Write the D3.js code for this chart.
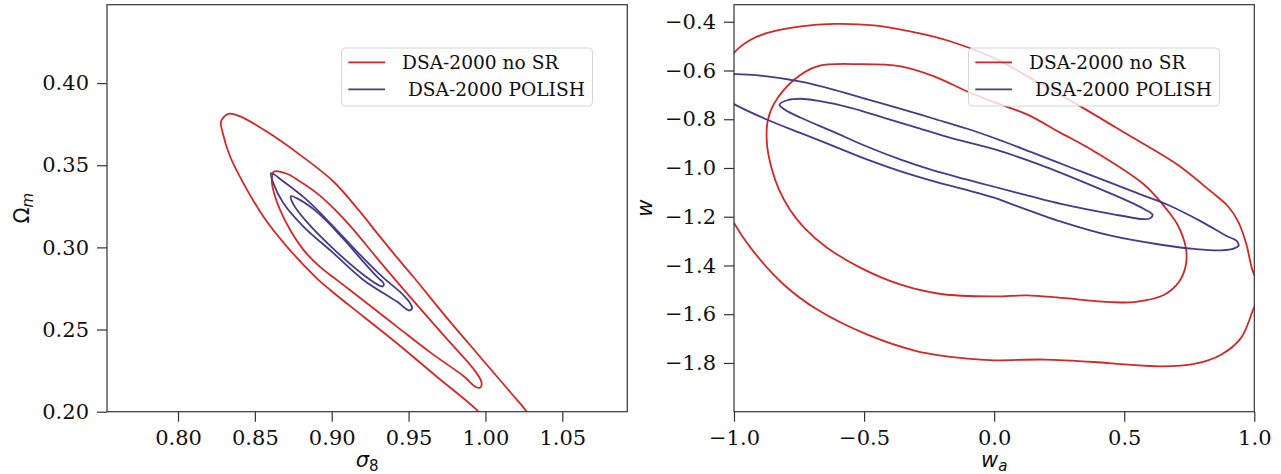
<!DOCTYPE html>
<html>
<head>
<meta charset="utf-8">
<script src="https://cdn.jsdelivr.net/npm/d3@7"></script>
<style>
  body { margin: 0; background: #fff; }
</style>
</head>
<body>
<div id="chart"></div>
<script>
// ---- data ----
const sigma8Ticks = [0.80, 0.85, 0.90, 0.95, 1.00, 1.05];
const omegaTicks = [0.20, 0.25, 0.30, 0.35, 0.40];
const waTicks = [-1.0, -0.5, 0.0, 0.5, 1.0];
const wTicks = [-1.8, -1.6, -1.4, -1.2, -1.0, -0.8, -0.6, -0.4];

const legendLabels = ["DSA-2000 no SR", " DSA-2000 POLISH"];
const seriesColors = ["#d62728", "#483a8a"];

// contour levels, [sigma8, Omega_m]
const noSR_s8om_outer = [
  [0.8280, 0.3766], [0.8327, 0.3813], [0.8404, 0.3797], [0.8577, 0.3705], [0.8794, 0.3563],
  [0.9011, 0.3401], [0.9185, 0.3216], [0.9302, 0.3079], [0.9424, 0.2939], [0.9532, 0.2820],
  [0.9749, 0.2571], [0.9966, 0.2333], [1.0161, 0.2120], [1.0270, 0.1998], [1.0344, 0.1876],
  [1.0292, 0.1755], [1.0129, 0.1828], [0.9945, 0.2010], [0.9684, 0.2213], [0.9424, 0.2417],
  [0.9206, 0.2579], [0.8990, 0.2741], [0.8903, 0.2812], [0.8708, 0.3005], [0.8555, 0.3188],
  [0.8425, 0.3391], [0.8339, 0.3553], [0.8291, 0.3696]
];
const noSR_s8om_inner = [
  [0.8625, 0.3462], [0.8708, 0.3448], [0.8794, 0.3401], [0.8903, 0.3330], [0.9011, 0.3239],
  [0.9120, 0.3131], [0.9315, 0.2912], [0.9532, 0.2674], [0.9749, 0.2443], [0.9923, 0.2260],
  [0.9974, 0.2181], [0.9969, 0.2149], [0.9940, 0.2149], [0.9857, 0.2217], [0.9641, 0.2361],
  [0.9424, 0.2518], [0.9206, 0.2677], [0.9042, 0.2796], [0.8924, 0.2881], [0.8816, 0.2985],
  [0.8729, 0.3107], [0.8664, 0.3228], [0.8625, 0.3330], [0.8610, 0.3411]
];
const polish_s8om_outer = [
  [0.8605, 0.3452], [0.8686, 0.3401], [0.8838, 0.3289], [0.9011, 0.3127], [0.9185, 0.2954],
  [0.9337, 0.2814], [0.9445, 0.2729], [0.9510, 0.2660], [0.9523, 0.2629], [0.9504, 0.2616],
  [0.9424, 0.2670], [0.9206, 0.2802], [0.9011, 0.2965], [0.8816, 0.3127], [0.8686, 0.3269],
  [0.8620, 0.3391]
];
const polish_s8om_inner = [
  [0.8734, 0.3312], [0.8775, 0.3298], [0.8903, 0.3216], [0.9076, 0.3052], [0.9206, 0.2912],
  [0.9296, 0.2820], [0.9338, 0.2781], [0.9331, 0.2762], [0.9296, 0.2775], [0.9206, 0.2833],
  [0.9011, 0.2991], [0.8838, 0.3155], [0.8749, 0.3265]
];

// contour levels, [w_a, w]
const noSR_waw_outer = [
  [-1.000, -0.528], [-0.936, -0.474], [-0.872, -0.446], [-0.743, -0.419], [-0.615, -0.409],
  [-0.462, -0.415], [-0.295, -0.446], [-0.167, -0.481], [0.000, -0.549], [0.158, -0.642],
  [0.320, -0.740], [0.513, -0.863], [0.705, -0.987], [0.833, -1.096], [0.897, -1.155],
  [0.938, -1.220], [0.969, -1.311], [0.990, -1.409], [1.019, -1.507], [0.993, -1.588],
  [0.949, -1.697], [0.872, -1.766], [0.769, -1.804], [0.641, -1.814], [0.513, -1.807],
  [0.385, -1.796], [0.192, -1.786], [0.000, -1.789], [-0.103, -1.782], [-0.295, -1.752],
  [-0.487, -1.684], [-0.680, -1.581], [-0.808, -1.479], [-0.936, -1.328], [-1.000, -1.226],
  [-1.046, -1.130], [-1.085, -0.884], [-1.046, -0.638]
];
const noSR_waw_inner = [
  [-0.513, -0.574], [-0.359, -0.583], [-0.231, -0.624], [-0.103, -0.686], [0.000, -0.730],
  [0.128, -0.781], [0.254, -0.855], [0.385, -0.932], [0.577, -1.069], [0.667, -1.175],
  [0.705, -1.233], [0.737, -1.328], [0.737, -1.397], [0.712, -1.465], [0.654, -1.520],
  [0.538, -1.550], [0.449, -1.550], [0.257, -1.533], [0.128, -1.523], [0.000, -1.527],
  [-0.205, -1.517], [-0.359, -1.479], [-0.513, -1.410], [-0.641, -1.328], [-0.727, -1.249],
  [-0.785, -1.171], [-0.827, -1.089], [-0.856, -0.999], [-0.873, -0.905], [-0.871, -0.810],
  [-0.846, -0.736], [-0.769, -0.638], [-0.680, -0.583]
];
const polish_waw_outer = [
  [-1.000, -0.615], [-0.872, -0.624], [-0.743, -0.646], [-0.615, -0.679], [-0.487, -0.718],
  [-0.359, -0.757], [-0.231, -0.798], [-0.103, -0.839], [0.000, -0.877], [0.138, -0.933],
  [0.292, -0.997], [0.446, -1.060], [0.562, -1.108], [0.667, -1.151], [0.795, -1.219],
  [0.897, -1.281], [0.931, -1.298], [0.940, -1.317], [0.923, -1.330], [0.872, -1.338],
  [0.769, -1.332], [0.641, -1.315], [0.449, -1.278], [0.257, -1.220], [0.064, -1.147],
  [0.000, -1.122], [-0.103, -1.091], [-0.231, -1.055], [-0.359, -1.014], [-0.487, -0.966],
  [-0.615, -0.911], [-0.743, -0.857], [-0.872, -0.802], [-1.000, -0.738], [-1.062, -0.699],
  [-1.085, -0.658], [-1.062, -0.621]
];
const polish_waw_inner = [
  [-0.825, -0.740], [-0.795, -0.722], [-0.746, -0.716], [-0.680, -0.724], [-0.551, -0.753],
  [-0.423, -0.794], [-0.295, -0.835], [-0.167, -0.876], [0.000, -0.923], [0.177, -0.987],
  [0.369, -1.069], [0.538, -1.147], [0.581, -1.171], [0.609, -1.192], [0.600, -1.206],
  [0.577, -1.210], [0.449, -1.188], [0.257, -1.147], [0.127, -1.112], [0.000, -1.077],
  [-0.103, -1.048], [-0.231, -1.011], [-0.359, -0.966], [-0.487, -0.913], [-0.615, -0.853],
  [-0.743, -0.794], [-0.804, -0.761]
];

// ---- layout ----
const width = 1281, height = 474;
const spineColor = "#333";
const tickFont = "'DejaVu Serif', serif";
const mathFont = "'DejaVu Sans', sans-serif";

const svg = d3.select("#chart").append("svg")
  .attr("width", width)
  .attr("height", height);

const panels = [
  {
    id: "s8om",
    box: { left: 107, right: 627.3, top: 4.7, bottom: 411.7 },
    xDomain: [0.7538, 1.0923], yDomain: [0.20, 0.4477],
    xTicks: sigma8Ticks, yTicks: omegaTicks,
    xFmt: d3.format(".2f"), yFmt: d3.format(".2f"),
    contours: [
      [noSR_s8om_outer, 0], [noSR_s8om_inner, 0],
      [polish_s8om_outer, 1], [polish_s8om_inner, 1]
    ],
    xLabel: [["σ", "italic", 0], ["8", "normal", 1]],
    yLabel: [["Ω", "normal", 0], ["m", "italic", 1]],
    yLabelX: 29
  },
  {
    id: "waw",
    box: { left: 734, right: 1254.3, top: 4.7, bottom: 411.7 },
    xDomain: [-1, 1], yDomain: [-2.0, -0.33],
    xTicks: waTicks, yTicks: wTicks,
    xFmt: d3.format(".1f"), yFmt: d3.format(".1f"),
    contours: [
      [noSR_waw_outer, 0], [noSR_waw_inner, 0],
      [polish_waw_outer, 1], [polish_waw_inner, 1]
    ],
    xLabel: [["w", "italic", 0], ["a", "italic", 1]],
    yLabel: [["w", "italic", 0]],
    yLabelX: 652
  }
];

// math-like label with optional subscript
function mathLabel(sel, parts) {
  parts.forEach(function (p) {
    const t = sel.append("tspan")
      .attr("font-style", p[1])
      .text(p[0]);
    if (p[2] === 1) t.attr("font-size", "15px").attr("dy", 4);
  });
}

panels.forEach(function (p) {
  const b = p.box;
  const x = d3.scaleLinear().domain(p.xDomain).range([b.left, b.right]);
  const y = d3.scaleLinear().domain(p.yDomain).range([b.bottom, b.top]);

  const g = svg.append("g");

  g.append("clipPath").attr("id", "clip-" + p.id)
    .append("rect")
    .attr("x", b.left).attr("y", b.top)
    .attr("width", b.right - b.left).attr("height", b.bottom - b.top);

  // contours
  const line = d3.line()
    .x(d => x(d[0]))
    .y(d => y(d[1]))
    .curve(d3.curveCatmullRomClosed.alpha(0.5));

  g.append("g")
    .attr("clip-path", "url(#clip-" + p.id + ")")
    .selectAll("path")
    .data(p.contours)
    .join("path")
    .attr("d", d => line(d[0]))
    .attr("fill", "none")
    .attr("stroke", d => seriesColors[d[1]])
    .attr("stroke-width", 1.8);

  // axes
  const xAxis = g.append("g")
    .attr("transform", `translate(0,${b.bottom})`)
    .call(d3.axisBottom(x).tickValues(p.xTicks).tickFormat(p.xFmt).tickSize(10).tickPadding(8));
  const yAxis = g.append("g")
    .attr("transform", `translate(${b.left},0)`)
    .call(d3.axisLeft(y).tickValues(p.yTicks).tickFormat(p.yFmt).tickSize(10).tickPadding(8));

  [xAxis, yAxis].forEach(function (a) {
    a.select(".domain").remove();
    a.selectAll(".tick line").attr("stroke", spineColor).attr("stroke-width", 1.2);
    a.selectAll(".tick text")
      .attr("fill", "#111")
      .style("font-family", tickFont)
      .style("font-size", "21px");
  });

  // spines
  g.append("rect")
    .attr("x", b.left).attr("y", b.top)
    .attr("width", b.right - b.left).attr("height", b.bottom - b.top)
    .attr("fill", "none")
    .attr("stroke", spineColor)
    .attr("stroke-width", 1.2);

  // axis labels
  const xl = g.append("text")
    .attr("x", (b.left + b.right) / 2)
    .attr("y", 467)
    .attr("text-anchor", "middle")
    .style("font-family", mathFont)
    .style("font-size", "21px")
    .attr("fill", "#111");
  mathLabel(xl, p.xLabel);

  const yl = g.append("text")
    .attr("transform", `translate(${p.yLabelX},${(b.top + b.bottom) / 2}) rotate(-90)`)
    .attr("text-anchor", "middle")
    .style("font-family", mathFont)
    .style("font-size", "21px")
    .attr("fill", "#111");
  mathLabel(yl, p.yLabel);

  // legend
  const lg = g.append("g").attr("transform", `translate(${b.left + 234.5},48)`);
  lg.append("rect")
    .attr("width", 251).attr("height", 58)
    .attr("rx", 4)
    .attr("fill", "#fff").attr("fill-opacity", 0.8)
    .attr("stroke", "#d6d6d6").attr("stroke-width", 1);
  legendLabels.forEach(function (lab, i) {
    const cy = 14.3 + i * 27;
    lg.append("line")
      .attr("x1", 6.8).attr("x2", 43.5)
      .attr("y1", cy).attr("y2", cy)
      .attr("stroke", seriesColors[i])
      .attr("stroke-width", 1.8);
    lg.append("text")
      .attr("x", 60.5)
      .attr("y", cy + 6.7)
      .attr("xml:space", "preserve")
      .style("white-space", "pre")
      .style("font-family", tickFont)
      .style("font-size", "18.6px")
      .attr("fill", "#111")
      .text(lab);
  });
});
</script>
</body>
</html>
